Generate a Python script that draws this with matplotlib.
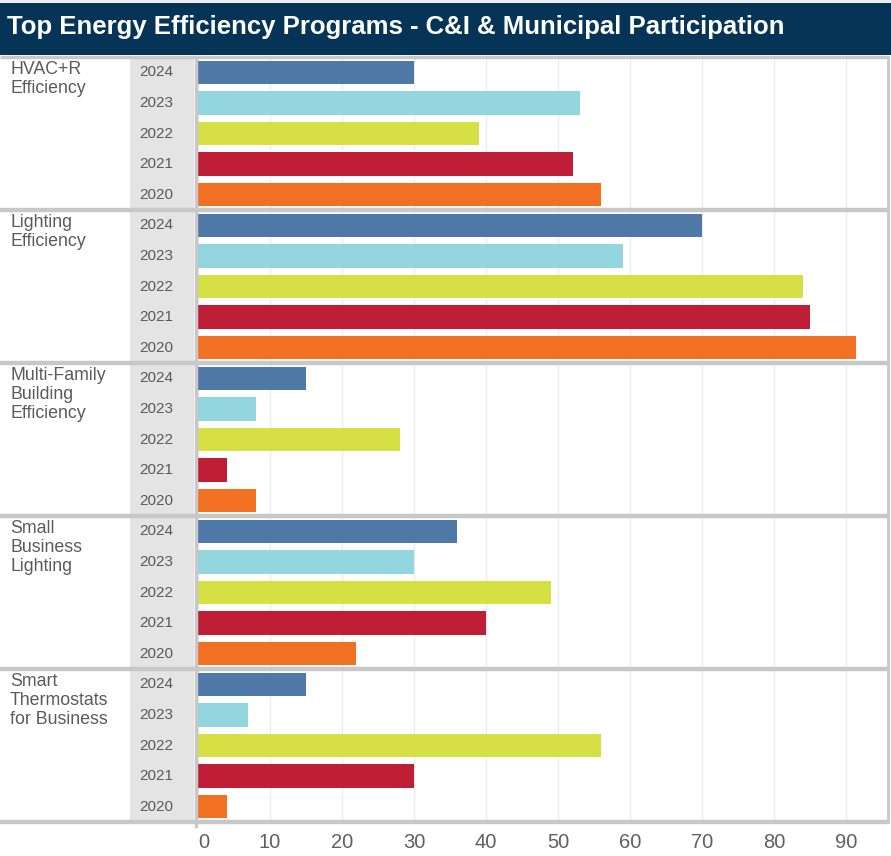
import matplotlib.pyplot as plt
import matplotlib.transforms as mtransforms
from matplotlib.patches import Rectangle
import numpy as np

plt.rcParams['font.family'] = ['Liberation Sans', 'DejaVu Sans']

programs = ['HVAC+R\nEfficiency', 'Lighting\nEfficiency',
            'Multi-Family\nBuilding\nEfficiency', 'Small\nBusiness\nLighting',
            'Smart\nThermostats\nfor Business']
years = ['2024', '2023', '2022', '2021', '2020']
colors = ['#4e79a7', '#94d6df', '#d6e045', '#be1e36', '#f27022']

# participation per program, ordered 2024 -> 2020
hvac = [30, 53, 39, 52, 56]
lighting = [70, 59, 84, 85, 91.4]
multifamily = [15, 8, 28, 4, 8]
small_business = [36, 30, 49, 40, 22]
thermostats = [15, 7, 56, 30, 4]
values = [hvac, lighting, multifamily, small_business, thermostats]

W, H = 891, 856
fig = plt.figure(figsize=(W / 100, H / 100), dpi=100)
fig.patch.set_facecolor('white')

def fx(x):
    return x / W

def fy(y):
    return 1 - y / H

# top strip and title bar
fig.add_artist(Rectangle((0, fy(3)), 1, 3 / H, transform=fig.transFigure,
                         facecolor='#eeeeee', edgecolor='none'))
fig.add_artist(Rectangle((0, fy(55)), 1, 52 / H, transform=fig.transFigure,
                         facecolor='#053457', edgecolor='none'))
fig.text(fx(7), fy(27), 'Top Energy Efficiency Programs - C&I & Municipal Participation',
         color='white', fontsize=18.5, fontweight='bold', va='center', ha='left')

ax = fig.add_axes([fx(198), fy(822), fx(888) - fx(198), (822 - 57) / H])
n_years = len(years)
n_rows = len(programs) * n_years
ax.set_ylim(n_rows - 0.5, -0.5)
ax.set_xlim(0, 95.8)

for g, vals in enumerate(values):
    rows = g * n_years + np.arange(n_years)
    ax.barh(rows, vals, height=0.77, color=colors, zorder=3)

ax.set_xticks(np.arange(0, 100, 10))
ax.grid(axis='x', color='#ececec', linewidth=1, zorder=0)
ax.set_yticks([])
ax.tick_params(axis='x', length=0, pad=8, labelsize=14.5, labelcolor='#606060')
for lbl in ax.get_xticklabels():
    if lbl.get_text() == '0':
        lbl.set_horizontalalignment('left')
for s in ['left', 'bottom', 'top']:
    ax.spines[s].set_visible(False)
ax.spines['right'].set_color('#c8c8c8')
ax.spines['right'].set_linewidth(2)

# year column background
bx = mtransforms.blended_transform_factory(fig.transFigure, ax.transAxes)
ax.add_artist(Rectangle((fx(130), 0), fx(194) - fx(130), 1, transform=bx,
                        facecolor='#e4e4e4', edgecolor='none', clip_on=False, zorder=0))

# labels and separators
by = mtransforms.blended_transform_factory(fig.transFigure, ax.transData)
for g, prog in enumerate(programs):
    top = g * n_years - 0.5
    ax.text(fx(10), top + 0.12, prog, transform=by, ha='left', va='top',
            fontsize=12.8, color='#5a5a5a', linespacing=1.16)
    for k, yr in enumerate(years):
        ax.text(fx(156), g * n_years + k, yr, transform=by, ha='center',
                va='center', fontsize=11, color='#5a5a5a')
for b in range(len(programs) + 1):
    yb = b * n_years - 0.5
    ax.plot([0, fx(888)], [yb, yb], transform=by, color='#c8c8c8',
            linewidth=3.2 if b > 0 else 2.5, clip_on=False, zorder=4,
            solid_capstyle='butt')

# vertical divider between labels and bars
fig.add_artist(plt.Line2D([fx(196), fx(196)], [fy(57), fy(826)],
                          transform=fig.transFigure, color='#c8c8c8', linewidth=2.5))

fig.savefig('out.png', dpi=100)
